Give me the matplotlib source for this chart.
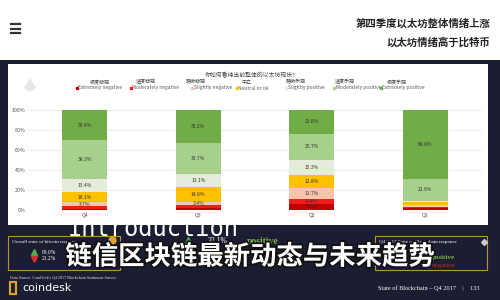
import matplotlib.pyplot as plt
from matplotlib.patches import Rectangle, Polygon
import matplotlib.patheffects as pe
import numpy as np

plt.rcParams['font.family'] = ['Noto Sans CJK SC', 'DejaVu Sans']

# ---- data ----
quarters = ['Q4', 'Q3', 'Q2', 'Q1']
series_en = ['Extremely negative', 'Moderately negative', 'Slightly negative', 'Neutral or ok',
             'Slightly positive', 'Moderately positive', 'Extremely positive']
series_cn = ['极度悲观', '适度悲观', '略微悲观', '中立', '略微乐观', '适度乐观', '极度乐观']
extremely_negative = [1.0, 2.0, 6.3, 1.6]
moderately_negative = [3.1, 2.8, 4.4, 1.8]
slightly_negative = [3.7, 3.4, 11.7, 2.1]
neutral = [10.1, 14.8, 12.8, 2.2]
slightly_positive = [13.4, 13.1, 15.3, 1.6]
moderately_positive = [38.3, 30.7, 25.7, 21.9]
extremely_positive = [30.4, 33.2, 23.8, 68.8]
y_ticks = [0, 20, 40, 60, 80, 100]

values = [extremely_negative, moderately_negative, slightly_negative, neutral,
          slightly_positive, moderately_positive, extremely_positive]
colors = ['#c00000', '#ee1c1c', '#f8c4ae', '#ffc000', '#e4ecdc', '#a8d08d', '#70ad47']

navy = '#1b1e32'
fig = plt.figure(figsize=(5, 3), dpi=100)
fig.patch.set_facecolor(navy)

bg = fig.add_axes([0, 0, 1, 1])
bg.set_xlim(0, 500)
bg.set_ylim(300, 0)
bg.axis('off')

# header
bg.add_patch(Rectangle((0, 0), 500, 60, fc='white', ec='none', zorder=1))
for yy in (24, 28.5, 33):
    bg.plot([11, 20], [yy, yy], color='#333333', lw=1.6, zorder=2)
bg.text(490, 23, '第四季度以太坊整体情绪上涨', ha='right', va='center', fontsize=7.5,
        fontweight='bold', color='#222222', zorder=2)
bg.text(490, 42, '以太坊情绪高于比特币', ha='right', va='center', fontsize=7.5,
        fontweight='bold', color='#222222', zorder=2)

# Introduction text partly hidden by the panel
bg.text(68, 236, 'Introduction', ha='left', va='baseline', fontsize=17,
        family='DejaVu Sans Mono', color='white', zorder=2)

# white panel
bg.add_patch(Rectangle((8, 64), 480, 161, fc='white', ec='none', zorder=3))
bg.add_patch(Polygon([[30, 78], [24, 88], [30, 92], [36, 88]], closed=True,
                     fc='#e6e6e6', ec='none', zorder=4))
bg.text(250, 75, '你如何看待当前整体的以太坊现状?', ha='center', va='center',
        fontsize=4.2, color='#444444', zorder=4)
leg_cn_x = [100, 146, 196, 247, 296, 345, 397]
leg_en_x = [77, 131, 192, 237, 286, 334, 381]
for xc, xe, cn, en, c in zip(leg_cn_x, leg_en_x, series_cn, series_en, colors):
    bg.text(xc, 82, cn, ha='center', va='center', fontsize=3.6, color='#444444', zorder=4)
    bg.plot(xe, 88.3, 's', ms=1.4, color=c, zorder=5)
    bg.text(xe + 1.5, 88, en, ha='left', va='center', fontsize=3.5,
            color='#555555', zorder=4)

# bottom boxes
gold = '#b8952e'
bg.add_patch(Rectangle((8, 236), 112, 34, fc='none', ec=gold, lw=0.8, zorder=2))
bg.add_patch(Rectangle((375, 236), 112, 34, fc='none', ec=gold, lw=0.8, zorder=2))
bg.text(12, 242, 'Overall state of bitcoin response', fontsize=3.6, family='Liberation Serif',
        color='white', va='center', zorder=2)
bg.plot(112, 240, 'o', ms=5, color='#d9a232', zorder=2)
bg.plot(34, 252, '^', ms=4, color='#4caf50', zorder=2)
bg.plot(34, 259, 'v', ms=4, color='#d32f2f', zorder=2)
bg.text(42, 252, '69.0%', fontsize=4, family='Liberation Serif', color='white', va='center', zorder=2)
bg.text(42, 259, '21.2%', fontsize=4, family='Liberation Serif', color='white', va='center', zorder=2)
bg.text(379, 242, 'Q4 2017 State of Blockchain response', fontsize=3.6,
        family='Liberation Serif', color='white', va='center', zorder=2)
bg.plot(484, 242, 'D', ms=3, color='#cccccc', zorder=2)
bg.plot(188, 243, '^', ms=8, color='#4caf50', zorder=2)
bg.text(208, 241, '32.1%', fontsize=5.5, family='Liberation Serif', color='white', va='center', zorder=2)
bg.text(247, 242, 'positive', fontsize=7, family='Liberation Serif', color='#7cb342',
        fontweight='bold', va='center', zorder=2)
bg.text(432, 257, 'positive', fontsize=5, family='Liberation Serif', color='#7cb342',
        fontweight='bold', va='center', zorder=2)
bg.text(432, 265, 'negative', fontsize=5, family='Liberation Serif', color='#c62828',
        va='center', zorder=2)

bg.text(250, 257, '链信区块链最新动态与未来趋势', ha='center', va='center', fontsize=19,
        fontweight='bold', color='white', zorder=6,
        path_effects=[pe.withStroke(linewidth=2.5, foreground='#111111')])

bg.text(10, 278, 'Data Source: CoinDesk\'s Q4 2017 Blockchain Sentiment Survey', fontsize=3,
        family='Liberation Serif', color='#dddddd', va='center', zorder=2)
bg.add_patch(Rectangle((10, 282), 6, 12, fc='none', ec='#e0a526', lw=1.5, zorder=2))
bg.text(22, 288, 'coindesk', fontsize=8, color='white', va='center', family='DejaVu Sans', zorder=2)
bg.text(480, 288, 'State of Blockchain \u2013 Q4 2017    |    133', ha='right', va='center',
        fontsize=4.5, family='Liberation Serif', color='white', zorder=2)

# stacked bar chart
ax = fig.add_axes([28 / 500, 90 / 300, 454 / 500, 100 / 300])
ax.set_zorder(5)
ax.patch.set_alpha(0)
x = np.arange(len(quarters))
bottom = np.zeros(len(quarters))
for vals, c in zip(values, colors):
    vals = np.array(vals)
    ax.bar(x, vals, bottom=bottom, width=0.4, color=c, zorder=3)
    for xi, v, b in zip(x, vals, bottom):
        if v >= 3.3:
            ax.text(xi, b + v / 2, f'{v:.1f}%', ha='center', va='center', fontsize=3.6,
                    color='#333333', zorder=4)
    bottom += vals
ax.set_xlim(-0.5, 3.5)
ax.set_ylim(0, 100)
ax.set_yticks(y_ticks)
ax.set_yticklabels([f'{t}%' for t in y_ticks], fontsize=3.8, color='#555555')
ax.set_xticks(x)
ax.set_xticklabels(quarters, fontsize=3.8, color='#555555')
ax.tick_params(length=0, pad=2)
ax.yaxis.grid(True, color='#e4e4e4', lw=0.5, zorder=0)
for s in ax.spines.values():
    s.set_visible(False)

fig.savefig('out.png', dpi=100, facecolor=navy)
